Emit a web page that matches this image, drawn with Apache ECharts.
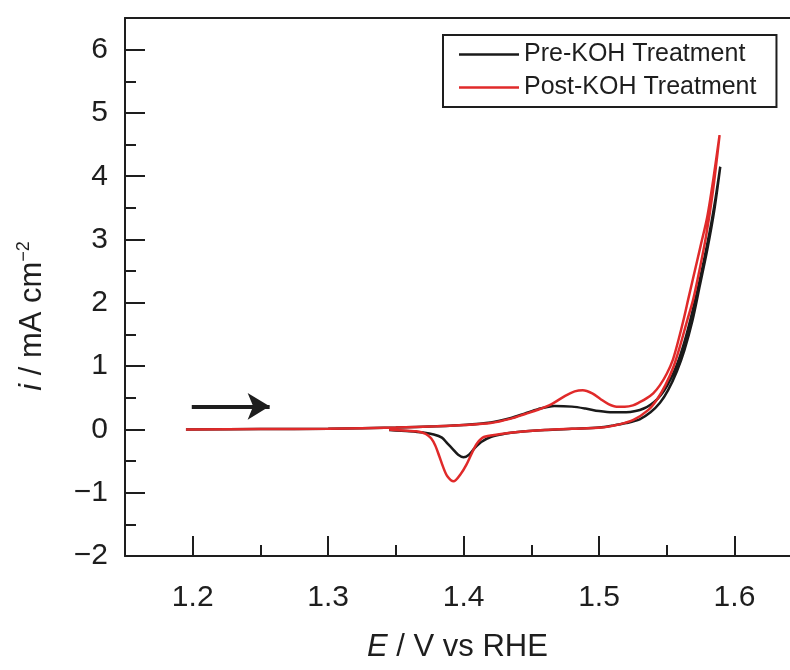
<!DOCTYPE html>
<html>
<head>
<meta charset="utf-8">
<script src="https://cdn.jsdelivr.net/npm/echarts@6/dist/echarts.min.js"></script>
<style>
html,body{margin:0;padding:0;background:#fff;}
#chart{width:790px;height:670px;}
</style>
</head>
<body>
<div id="chart"></div>
<script>
// ---- data (E in V vs RHE, i in mA cm^-2) ----
const xMajorTicks = [1.2, 1.3, 1.4, 1.5, 1.6];
const xMinorTicks = [1.25, 1.35, 1.45, 1.55];
const yMajorTicks = [-2, -1, 0, 1, 2, 3, 4, 5, 6];
const yMinorTicks = [-1.5, -0.5, 0.5, 1.5, 2.5, 3.5, 4.5, 5.5];

const seriesNames = ['Pre-KOH Treatment', 'Post-KOH Treatment'];

// Pre-KOH: forward scan then reverse scan
const preE = [1.195, 1.25, 1.30, 1.35, 1.38, 1.40, 1.42, 1.435, 1.445, 1.455, 1.467, 1.48, 1.49, 1.50, 1.51, 1.52, 1.527, 1.533, 1.538, 1.543, 1.548, 1.553, 1.558, 1.563, 1.568, 1.574, 1.5815, 1.586, 1.5895,
  1.585, 1.580, 1.5745, 1.569, 1.563, 1.5575, 1.551, 1.545, 1.538, 1.530, 1.52, 1.51, 1.50, 1.48, 1.46, 1.44, 1.43, 1.42, 1.413, 1.408, 1.404, 1.400, 1.396, 1.392, 1.388, 1.384, 1.378, 1.37, 1.36, 1.345];
const preI = [0.00, 0.005, 0.01, 0.03, 0.05, 0.07, 0.11, 0.18, 0.25, 0.32, 0.37, 0.36, 0.33, 0.29, 0.27, 0.27, 0.29, 0.33, 0.39, 0.48, 0.61, 0.80, 1.05, 1.38, 1.78, 2.32, 3.10, 3.65, 4.15,
  3.45, 2.85, 2.28, 1.72, 1.25, 0.92, 0.62, 0.42, 0.27, 0.16, 0.10, 0.06, 0.03, 0.01, -0.01, -0.04, -0.07, -0.12, -0.20, -0.30, -0.40, -0.44, -0.40, -0.31, -0.22, -0.13, -0.08, -0.05, -0.03, -0.01];

// Post-KOH: forward scan then reverse scan
const postE = [1.195, 1.25, 1.30, 1.35, 1.38, 1.40, 1.42, 1.435, 1.445, 1.455, 1.465, 1.475, 1.482, 1.488, 1.495, 1.501, 1.507, 1.513, 1.519, 1.525, 1.530, 1.535, 1.540, 1.545, 1.550, 1.5545, 1.5585, 1.5625, 1.566, 1.570, 1.575, 1.580, 1.5845, 1.589,
  1.584, 1.579, 1.574, 1.5695, 1.5648, 1.560, 1.555, 1.549, 1.5427, 1.536, 1.5254, 1.515, 1.502, 1.48, 1.46, 1.44, 1.425, 1.415, 1.410, 1.406, 1.402, 1.398, 1.3926, 1.388, 1.385, 1.382, 1.379, 1.376, 1.372, 1.365, 1.35, 1.345];
const postI = [0.00, 0.005, 0.01, 0.03, 0.05, 0.07, 0.10, 0.17, 0.24, 0.31, 0.40, 0.53, 0.60, 0.62, 0.57, 0.48, 0.40, 0.36, 0.36, 0.38, 0.43, 0.49, 0.57, 0.70, 0.88, 1.10, 1.40, 1.74, 2.07, 2.44, 2.90, 3.37, 3.97, 4.65,
  3.75, 3.05, 2.50, 2.05, 1.70, 1.33, 0.99, 0.70, 0.47, 0.30, 0.15, 0.08, 0.03, 0.01, -0.01, -0.04, -0.08, -0.12, -0.22, -0.38, -0.56, -0.70, -0.82, -0.74, -0.60, -0.42, -0.25, -0.14, -0.07, -0.03, -0.01, 0.00];

// scan direction arrow (start, end) in data coordinates
const arrowStart = [1.1993, 0.364];
const arrowEnd = [1.2568, 0.364];

const zip = (a, b) => a.map((v, k) => [v, b[k]]);

const FONT = 'Liberation Sans, Arial, Helvetica, sans-serif';
const INK = '#1e1e1e';

const chart = echarts.init(document.getElementById('chart'), null, {renderer: 'canvas'});

const baseX = {type: 'value', min: 1.15, max: 1.641, gridIndex: 0, splitLine: {show: false}};
const baseY = {type: 'value', min: -2, max: 6.5, gridIndex: 0, splitLine: {show: false}};

chart.setOption({
  backgroundColor: '#fff',
  animation: false,
  grid: {left: 125, top: 18, right: 0, height: 538, containLabel: false},
  legend: {
    orient: 'vertical', left: 443, top: 35,
    padding: [7, 20, 7, 16], itemGap: 8,
    borderColor: INK, borderWidth: 2, borderRadius: 0,
    icon: 'rect', itemWidth: 60, itemHeight: 2.5,
    textStyle: {fontFamily: FONT, fontSize: 25, color: INK},
    data: seriesNames
  },
  xAxis: [
    Object.assign({}, baseX, {
      position: 'bottom',
      axisLine: {show: true, onZero: false, lineStyle: {color: INK, width: 2}},
      axisTick: {show: true, inside: true, length: 20, lineStyle: {color: INK, width: 2}, customValues: xMajorTicks},
      axisLabel: {show: true, margin: 27, fontFamily: FONT, fontSize: 30, color: INK, customValues: xMajorTicks,
        formatter: v => v.toFixed(1)},
      name: '{it|E} / V vs RHE', nameLocation: 'middle', nameGap: 76,
      nameTextStyle: {fontFamily: FONT, fontSize: 31, color: INK,
        rich: {it: {fontFamily: FONT, fontSize: 31, fontStyle: 'italic', color: INK}}}
    }),
    Object.assign({}, baseX, {
      position: 'bottom',
      axisLine: {show: false, onZero: false},
      axisTick: {show: true, inside: true, length: 11, lineStyle: {color: INK, width: 2}, customValues: xMinorTicks},
      axisLabel: {show: false}
    }),
    Object.assign({}, baseX, {
      position: 'top',
      axisLine: {show: true, onZero: false, lineStyle: {color: INK, width: 2}},
      axisTick: {show: false},
      axisLabel: {show: false}
    })
  ],
  yAxis: [
    Object.assign({}, baseY, {
      position: 'left',
      axisLine: {show: true, onZero: false, lineStyle: {color: INK, width: 2}},
      axisTick: {show: true, inside: true, length: 20, lineStyle: {color: INK, width: 2}, customValues: yMajorTicks},
      axisLabel: {show: true, margin: 17, fontFamily: FONT, fontSize: 30, color: INK, customValues: yMajorTicks,
        formatter: v => (v < 0 ? '\u2212' + Math.abs(v) : String(v))}
    }),
    Object.assign({}, baseY, {
      position: 'left',
      axisLine: {show: false, onZero: false},
      axisTick: {show: true, inside: true, length: 11, lineStyle: {color: INK, width: 2}, customValues: yMinorTicks},
      axisLabel: {show: false}
    })
  ],
  graphic: [{
    type: 'text',
    x: 32, y: 316, rotation: Math.PI / 2,
    style: {
      text: '{it|i} / mA cm{sup|\u22122}',
      fontFamily: FONT, fontSize: 31, fill: INK,
      align: 'center', verticalAlign: 'middle',
      rich: {
        it: {fontFamily: FONT, fontSize: 31, fontStyle: 'italic', fill: INK},
        sup: {fontFamily: FONT, fontSize: 18, fill: INK, verticalAlign: 'top', padding: [0, 0, 16, 0]}
      }
    }
  }],
  series: [
    {
      name: seriesNames[0], type: 'line', xAxisIndex: 0, yAxisIndex: 0,
      data: zip(preE, preI), showSymbol: false, symbol: 'none', smooth: 0.3,
      lineStyle: {color: '#1a1a1a', width: 2.5}, itemStyle: {color: '#1a1a1a'}, z: 3
    },
    {
      name: seriesNames[1], type: 'line', xAxisIndex: 0, yAxisIndex: 0,
      data: zip(postE, postI), showSymbol: false, symbol: 'none', smooth: 0.3,
      lineStyle: {color: '#e02a2a', width: 2.5}, itemStyle: {color: '#e02a2a'}, z: 4
    },
    {
      name: 'arrow', type: 'line', xAxisIndex: 0, yAxisIndex: 0, data: [],
      markLine: {
        silent: true, symbol: ['none', 'arrow'], symbolSize: [20, 22],
        label: {show: false},
        lineStyle: {color: INK, width: 4, type: 'solid'},
        data: [[{coord: arrowStart}, {coord: arrowEnd}]]
      }
    }
  ]
});
</script>
</body>
</html>
